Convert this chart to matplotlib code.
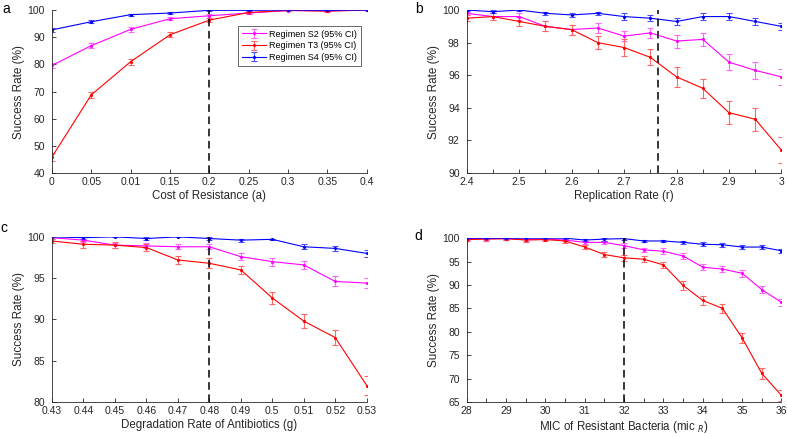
import matplotlib
matplotlib.use("Agg")
import matplotlib.pyplot as plt
import numpy as np

# --- data ---
a_x = [0, 0.05, 0.1, 0.15, 0.2, 0.25, 0.3, 0.35, 0.4]
a_labels = ["0", "0.05", "0.01", "0.15", "0.2", "0.25", "0.3", "0.35", "0.4"]
a_s2 = [79.6, 86.9, 92.9, 96.8, 97.9, 98.9, 99.8, 99.7, 100.0]
a_s2_err = [0.8, 1.0, 0.8, 0.5, 0.8, 0.5, 0.2, 0.3, 0.1]
a_t3 = [45.9, 68.8, 81.0, 90.9, 96.3, 99.1, 99.9, 99.6, 100.0]
a_t3_err = [1.5, 1.2, 1.1, 0.9, 0.8, 0.5, 0.2, 0.3, 0.1]
a_s4 = [92.7, 95.7, 98.3, 98.9, 99.9, 99.9, 100.0, 99.9, 100.0]
a_s4_err = [0.6, 0.5, 0.4, 0.3, 0.2, 0.2, 0.1, 0.2, 0.1]

b_x = [2.4, 2.45, 2.5, 2.55, 2.6, 2.65, 2.7, 2.75, 2.8, 2.85, 2.9, 2.95, 3.0]
b_s2 = [99.8, 99.6, 99.6, 99.0, 98.8, 98.9, 98.4, 98.6, 98.1, 98.2, 96.8, 96.3, 95.9]
b_s2_err = [0.1, 0.2, 0.2, 0.3, 0.3, 0.3, 0.3, 0.3, 0.4, 0.4, 0.5, 0.5, 0.5]
b_t3 = [99.5, 99.6, 99.3, 99.0, 98.8, 98.0, 97.7, 97.1, 95.9, 95.2, 93.7, 93.3, 91.4]
b_t3_err = [0.2, 0.2, 0.3, 0.3, 0.3, 0.4, 0.5, 0.5, 0.6, 0.6, 0.7, 0.7, 0.8]
b_s4 = [100.0, 99.9, 100.0, 99.8, 99.7, 99.8, 99.6, 99.5, 99.3, 99.6, 99.6, 99.3, 99.0]
b_s4_err = [0.05, 0.1, 0.05, 0.1, 0.1, 0.1, 0.2, 0.2, 0.2, 0.2, 0.2, 0.2, 0.2]

c_x = [0.43, 0.44, 0.45, 0.46, 0.47, 0.48, 0.49, 0.5, 0.51, 0.52, 0.53]
c_labels = ["0.43", "0.44", "0.45", "0.46", "0.47", "0.48", "0.49",
            "0.5", "0.51", "0.52", "0.53"]
c_s2 = [99.9, 99.6, 99.0, 98.9, 98.8, 98.8, 97.6, 97.0, 96.6, 94.6, 94.4]
c_s2_err = [0.1, 0.2, 0.3, 0.3, 0.3, 0.3, 0.4, 0.5, 0.5, 0.6, 0.6]
c_t3 = [99.5, 99.1, 99.0, 98.7, 97.2, 96.8, 96.0, 92.6, 89.8, 87.8, 82.0]
c_t3_err = [0.2, 0.4, 0.4, 0.4, 0.5, 0.6, 0.5, 0.7, 0.8, 0.9, 1.1]
c_s4 = [100.0, 99.9, 100.0, 99.8, 100.0, 99.8, 99.6, 99.7, 98.8, 98.6, 98.0]
c_s4_err = [0.05, 0.1, 0.05, 0.2, 0.05, 0.2, 0.2, 0.1, 0.3, 0.3, 0.4]

d_x = [28, 28.5, 29, 29.5, 30, 30.5, 31, 31.5, 32, 32.5, 33, 33.5, 34, 34.5, 35, 35.5, 36]
d_s2 = [99.9, 99.9, 99.9, 99.7, 99.8, 99.6, 99.1, 99.1, 98.4, 97.5, 97.2, 96.2, 93.8, 93.4, 92.5, 89.0, 86.3]
d_s2_err = [0.2, 0.2, 0.2, 0.3, 0.2, 0.3, 0.4, 0.4, 0.5, 0.5, 0.6, 0.6, 0.7, 0.7, 0.7, 0.8, 0.8]
d_t3 = [99.7, 99.8, 99.9, 99.6, 99.7, 99.4, 98.1, 96.5, 95.8, 95.5, 94.3, 89.9, 86.7, 85.0, 78.7, 71.1, 66.4]
d_t3_err = [0.3, 0.3, 0.2, 0.4, 0.3, 0.4, 0.5, 0.6, 0.7, 0.6, 0.7, 0.9, 0.9, 1.0, 1.1, 1.2, 1.2]
d_s4 = [100.0, 100.0, 100.0, 100.0, 100.0, 100.0, 99.6, 99.8, 99.9, 99.4, 99.4, 99.1, 98.7, 98.6, 98.1, 98.1, 97.3]
d_s4_err = [0.2, 0.2, 0.2, 0.2, 0.2, 0.2, 0.3, 0.3, 0.3, 0.3, 0.3, 0.3, 0.4, 0.4, 0.4, 0.4, 0.4]

names = ["Regimen S2 (95% CI)", "Regimen T3 (95% CI)", "Regimen S4 (95% CI)"]
colors = ["#ff00ff", "#ff0000", "#0000ff"]
ecolors = ["#ff66ff", "#ff6666", "#4d4dff"]
txt = "#262626"

plt.rcParams["font.family"] = "Liberation Sans"
plt.rcParams["font.size"] = 7.5

fig = plt.figure(figsize=(7.87, 4.37), dpi=100)


def panel(rect, x, series, errs, xlabel, ylim, yticks, xticks, vline, letter, letter_xy):
    ax = fig.add_axes(rect)
    handles = []
    for y, e, c, ec, n in zip(series, errs, colors, ecolors, names):
        h = ax.errorbar(x, y, yerr=e, color=c, ecolor=ec, lw=0.8, elinewidth=0.8,
                        capsize=2.5, capthick=0.8, marker=".", ms=2.5, label=n)
        handles.append(h)
    ax.axvline(vline, color="black", ls=(0, (5, 3)), lw=1.1, zorder=5)
    ax.set_xlim(x[0], x[-1])
    ax.set_ylim(*ylim)
    ax.set_yticks(yticks)
    ax.set_xticks(xticks)
    ax.set_xlabel(xlabel, fontsize=8.3, color=txt, labelpad=2)
    ax.set_ylabel("Success Rate (%)", fontsize=8.5, color=txt, labelpad=2)
    ax.spines["top"].set_visible(False)
    ax.spines["right"].set_visible(False)
    for s in ["left", "bottom"]:
        ax.spines[s].set_color(txt)
        ax.spines[s].set_linewidth(0.6)
    ax.tick_params(which="both", direction="in", length=3, width=0.6, colors=txt,
                   labelsize=7.5)
    ax.tick_params(axis="x", pad=3)
    ax.tick_params(axis="y", pad=5)
    fig.text(letter_xy[0], letter_xy[1], letter, fontsize=10, color="black",
             ha="left", va="top")
    return ax, handles


ax_a, hs = panel([0.066, 0.604, 0.400, 0.373], a_x, [a_s2, a_t3, a_s4],
                 [a_s2_err, a_t3_err, a_s4_err], "Cost of Resistance (a)",
                 (40, 100), range(40, 101, 10), a_x, 0.2, "a", (0.003, 0.995))
ax_a.set_xticklabels(a_labels)
leg = ax_a.legend(handles=hs, loc="upper right", bbox_to_anchor=(0.995, 0.93),
                  fontsize=6.5, frameon=True, fancybox=False, edgecolor="#262626",
                  borderpad=0.4, handlelength=2.6, handletextpad=0.4,
                  labelspacing=0.3)
leg.get_frame().set_linewidth(0.6)

ax_b, _ = panel([0.593, 0.604, 0.400, 0.373], b_x, [b_s2, b_t3, b_s4],
                [b_s2_err, b_t3_err, b_s4_err], "Replication Rate (r)",
                (90, 100), range(90, 101, 2), [2.4, 2.5, 2.6, 2.7, 2.8, 2.9, 3.0],
                2.765, "b", (0.527, 0.995))
ax_b.set_xticklabels(["2.4", "2.5", "2.6", "2.7", "2.8", "2.9", "3"])
ax_b.set_xticks(b_x, minor=True)

ax_c, _ = panel([0.066, 0.080, 0.400, 0.378], c_x, [c_s2, c_t3, c_s4],
                [c_s2_err, c_t3_err, c_s4_err], "Degradation Rate of Antibiotics (g)",
                (80, 100), range(80, 101, 5), c_x, 0.48, "c", (0.001, 0.495))
ax_c.set_xticklabels(c_labels)

ax_d, _ = panel([0.593, 0.080, 0.400, 0.375], d_x, [d_s2, d_t3, d_s4],
                [d_s2_err, d_t3_err, d_s4_err], r"MIC of Resistant Bacteria (mic $_{R}$)",
                (65, 100), range(65, 101, 5), d_x, 32, "d", (0.527, 0.475))
ax_d.set_xticks(range(28, 37))
ax_d.set_xticks(d_x, minor=True)

fig.savefig("out.png", dpi=100)
